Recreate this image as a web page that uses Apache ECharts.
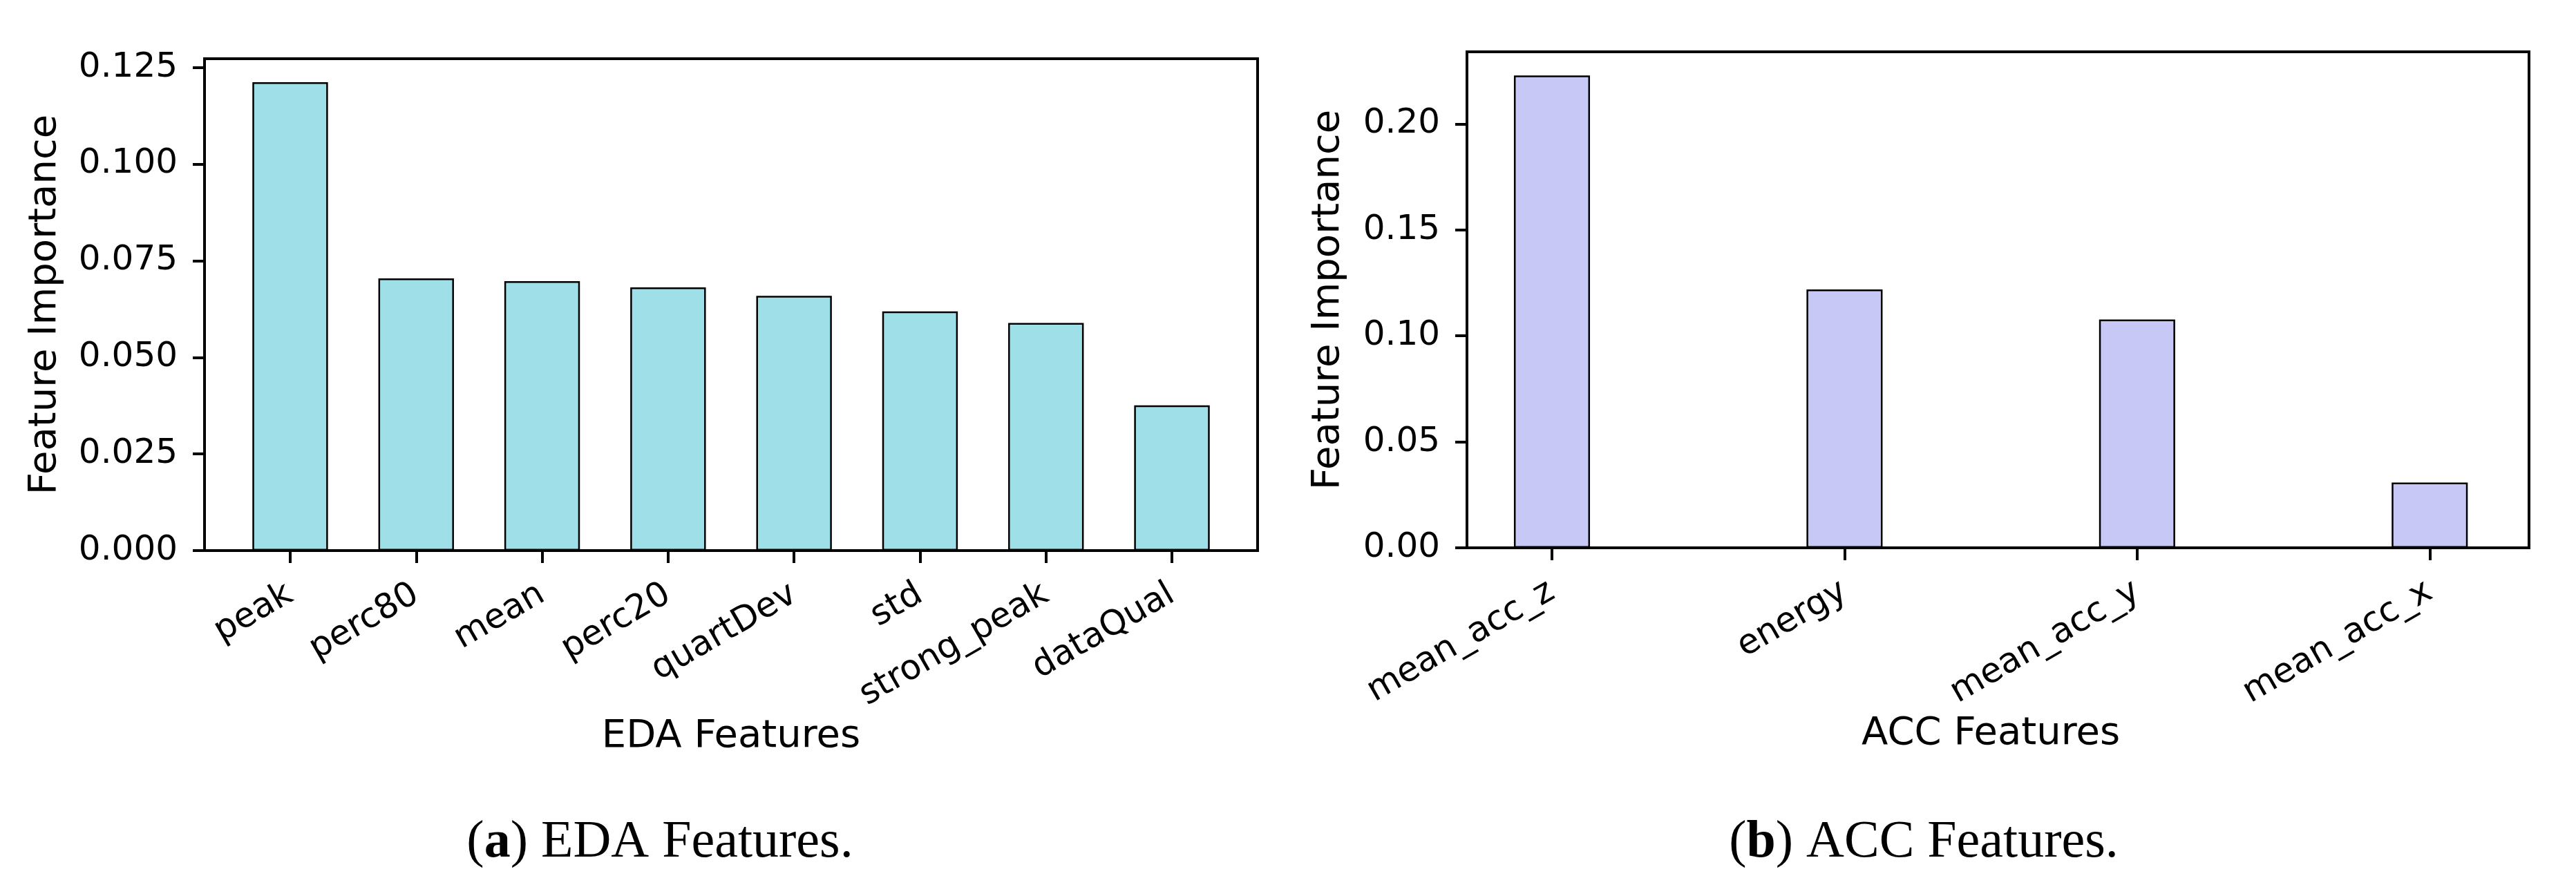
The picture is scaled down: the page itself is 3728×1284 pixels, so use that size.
<!DOCTYPE html>
<html>
<head>
<meta charset="utf-8">
<script src="https://cdn.jsdelivr.net/npm/echarts@6/dist/echarts.min.js"></script>
<style>
html,body{margin:0;padding:0;background:#fff;}
#chart{width:3728px;height:1284px;}
</style>
</head>
<body>
<div id="chart"></div>
<script>
// ---- data ----
const edaCategories = ['peak', 'perc80', 'mean', 'perc20', 'quartDev', 'std', 'strong_peak', 'dataQual'];
const edaValues = [0.1212, 0.0704, 0.0697, 0.0681, 0.0659, 0.0619, 0.0589, 0.0376];
const edaTicks = [0, 0.025, 0.05, 0.075, 0.1, 0.125];
const accCategories = ['mean_acc_z', 'energy', 'mean_acc_y', 'mean_acc_x'];
const accValues = [0.2229, 0.1219, 0.1077, 0.0308];
const accTicks = [0, 0.05, 0.1, 0.15, 0.2];

const edaMax = Math.max(...edaValues) * 1.05;
const accMax = Math.max(...accValues) * 1.05;

// ---- layout (pixels) ----
const FONT = 'DejaVu Sans';
const L = {left: 296, top: 85, width: 1524, height: 712};
const R = {left: 2123, top: 75, width: 1537, height: 718};
// matplotlib-like x margins: bar width w, 5% margin of data span
function innerGrid(g, n, w) {
  const span = (n - 1) + w;
  const units = span * 1.1;
  const u = g.width / units;
  const firstCenter = g.left + (w / 2 + span * 0.05) * u;
  return {left: firstCenter - u / 2, top: g.top, width: n * u, height: g.height};
}
const Li = innerGrid(L, edaCategories.length, 0.6);
const Ri = innerGrid(R, accCategories.length, 0.26);

function yAxisVisible(gridIndex, max, ticks, digits, nameGap) {
  return {
    type: 'value', gridIndex: gridIndex, min: 0, max: max,
    interval: ticks[1] - ticks[0],
    name: 'Feature Importance', nameLocation: 'middle', nameGap: nameGap,
    nameTextStyle: {fontFamily: FONT, fontSize: 56, color: '#000'},
    axisLine: {show: true, lineStyle: {color: '#000', width: 4}},
    axisTick: {show: true, length: 17, lineStyle: {color: '#000', width: 4}, customValues: ticks},
    axisLabel: {show: true, margin: 39, fontFamily: FONT, fontSize: 50, color: '#000',
      customValues: ticks, formatter: v => Number(v).toFixed(digits)},
    splitLine: {show: false}
  };
}
function yAxisHidden(gridIndex, max) {
  return {type: 'value', gridIndex: gridIndex, min: 0, max: max, show: false, splitLine: {show: false}};
}
function xAxisHidden(gridIndex) {
  return {type: 'value', gridIndex: gridIndex, min: 0, max: 1, show: false, splitLine: {show: false}};
}
function xAxisCat(gridIndex, cats, name, nameGap) {
  return {
    type: 'category', gridIndex: gridIndex, data: cats,
    name: name, nameLocation: 'middle', nameGap: nameGap,
    nameTextStyle: {fontFamily: FONT, fontSize: 56, color: '#000'},
    axisLine: {show: false},
    axisTick: {show: true, alignWithLabel: true, length: 18, lineStyle: {color: '#000', width: 4}},
    axisLabel: {show: true, interval: 0, rotate: 30, margin: 60, fontFamily: FONT, fontSize: 50, color: '#000'},
    splitLine: {show: false}
  };
}

const option = {
  animation: false,
  backgroundColor: '#fff',
  grid: [
    {left: L.left, top: L.top, width: L.width, height: L.height, show: true, borderColor: '#000', borderWidth: 4, backgroundColor: 'transparent'},
    {left: Li.left, top: Li.top, width: Li.width, height: Li.height, show: false},
    {left: R.left, top: R.top, width: R.width, height: R.height, show: true, borderColor: '#000', borderWidth: 4, backgroundColor: 'transparent'},
    {left: Ri.left, top: Ri.top, width: Ri.width, height: Ri.height, show: false}
  ],
  xAxis: [
    xAxisHidden(0),
    xAxisCat(1, edaCategories, 'EDA Features', 240),
    xAxisHidden(2),
    xAxisCat(3, accCategories, 'ACC Features', 240)
  ],
  yAxis: [
    yAxisVisible(0, edaMax, edaTicks, 3, 203),
    yAxisHidden(1, edaMax),
    yAxisVisible(2, accMax, accTicks, 2, 173),
    yAxisHidden(3, accMax)
  ],
  series: [
    {type: 'bar', xAxisIndex: 1, yAxisIndex: 1, data: edaValues, barWidth: '60%',
      itemStyle: {color: '#9EDFE8', borderColor: '#000', borderWidth: 2.5}},
    {type: 'bar', xAxisIndex: 3, yAxisIndex: 3, data: accValues, barWidth: '26%',
      itemStyle: {color: '#C7C8F6', borderColor: '#000', borderWidth: 2.5}}
  ],
  graphic: [
    {type: 'text', x: 955, y: 1220, style: {
      text: '{n|(}{b|a}{n|) EDA Features.}', align: 'center', verticalAlign: 'middle',
      rich: {n: {fontFamily: 'Liberation Serif', fontSize: 76, fill: '#000'},
             b: {fontFamily: 'Liberation Serif', fontSize: 76, fontWeight: 'bold', fill: '#000'}}}},
    {type: 'text', x: 2784, y: 1220, style: {
      text: '{n|(}{b|b}{n|) ACC Features.}', align: 'center', verticalAlign: 'middle',
      rich: {n: {fontFamily: 'Liberation Serif', fontSize: 76, fill: '#000'},
             b: {fontFamily: 'Liberation Serif', fontSize: 76, fontWeight: 'bold', fill: '#000'}}}}
  ]
};

const chart = echarts.init(document.getElementById('chart'), null, {renderer: 'canvas', devicePixelRatio: 1});
chart.setOption(option);
</script>
</body>
</html>
